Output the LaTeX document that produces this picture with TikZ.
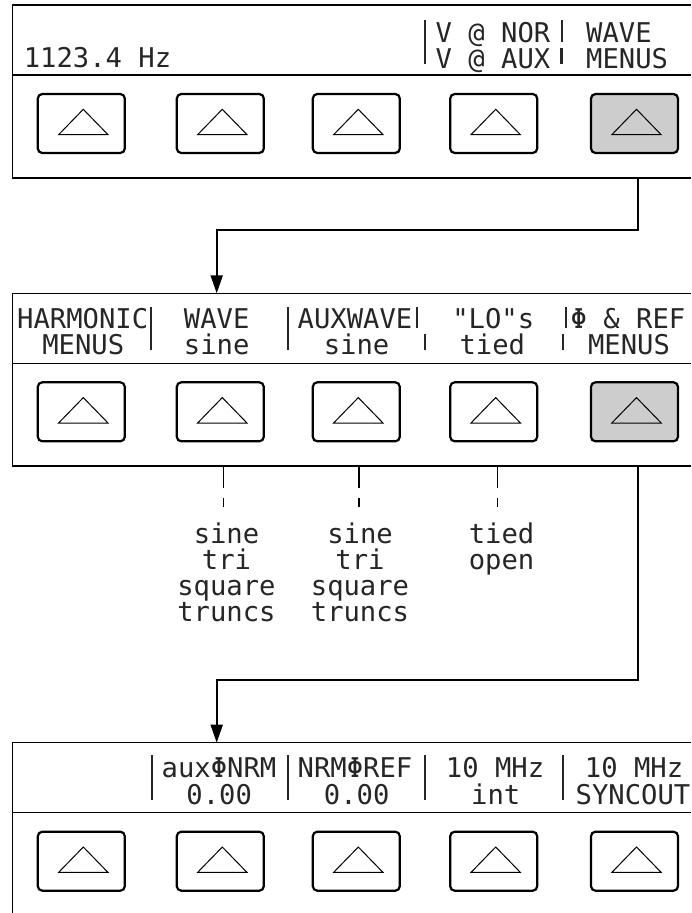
\documentclass[tikz,border=0pt]{standalone}
\usepackage{fontspec}
\newfontfamily\lcdfont{DejaVu Sans Mono}
\usetikzlibrary{arrows.meta}
\definecolor{btngray}{RGB}{205,205,205}
\begin{document}
\begin{tikzpicture}[x=1pt,y=-1pt,
  panel/.style={line width=1.2pt},
  btn/.style={draw, line width=2.2pt, rounded corners=4.5pt, minimum width=87pt, minimum height=59pt, inner sep=0pt},
  btnsel/.style={btn, fill=btngray},
  tri/.style={line width=1pt},
  lcd/.style={font=\lcdfont\fontsize{27.2pt}{30pt}\selectfont, inner sep=0pt, anchor=base, text=black!85},
  bar/.style={line width=2.2pt, draw=black!85},
  conn/.style={line width=2pt, -{Triangle[length=18pt,width=12pt]}},
  ind/.style={line width=1.2pt, dash pattern=on 22pt off 10pt on 9pt off 60pt}
]
\useasboundingbox (0,0) rectangle (691,913);

% ---------- top panel ----------
\draw[panel] (691,5) -- (12.7,5) -- (12.7,178) -- (691,178);
\draw[panel] (12.7,75) -- (691,75);
\foreach \n/\x in {1/81.3,2/220.3,3/356.3,4/493.7}{\node[btn] (ta\n) at (\x,123.5) {};}
\node[btnsel] (ta5) at (634.5,123.5) {};
\foreach \n in {1,...,5}{\draw[tri] ([shift={(2,-14.2)}]ta\n.center) -- ([shift={(26.7,11.2)}]ta\n.center) -- ([shift={(-22.7,11.2)}]ta\n.center) -- cycle;}
\node[lcd] (tfreq) at (97.5,67) {1123.4 Hz};
\node[lcd] (tnor) at (493,42) {V @ NOR};
\node[lcd] (taux) at (493,68) {V @ AUX};
\node[lcd,anchor=base west] (twave) at (586,42) {WAVE};
\node[lcd,anchor=base west] (tmenus) at (586,68) {MENUS};
\draw[bar] (425,20) -- (425,64);
\draw[bar] (562,20) -- (562,42);
\draw[bar] (561.5,48) -- (561.5,64);

% ---------- connector 1 ----------
\coordinate (c1s) at (638.3,178);
\coordinate (c1m) at (216.7,230);
\coordinate (c1e) at (216.7,293.3);
\draw[conn] (c1s) |- (c1m) -- (c1e);

% ---------- middle panel ----------
\draw[panel] (691,293.3) -- (12.7,293.3) -- (12.7,466) -- (691,466);
\draw[panel] (12.7,363.3) -- (691,363.3);
\foreach \n/\x in {1/81.3,2/220.3,3/356.3,4/493.7}{\node[btn] (mb\n) at (\x,411.8) {};}
\node[btnsel] (mb5) at (634.5,411.8) {};
\foreach \n in {1,...,5}{\draw[tri] ([shift={(2,-14.2)}]mb\n.center) -- ([shift={(26.7,11.2)}]mb\n.center) -- ([shift={(-22.7,11.2)}]mb\n.center) -- cycle;}
\node[lcd] (mharm) at (82.7,328) {HARMONIC};
\node[lcd] (mhmen) at (83.3,354) {MENUS};
\node[lcd] (mwave) at (216.7,328) {WAVE};
\node[lcd] (mwsin) at (216.7,354) {sine};
\node[lcd] (maux) at (355,328) {AUXWAVE};
\node[lcd] (masin) at (356.5,354) {sine};
\node[lcd] (mlo) at (493.3,328) {"LO"s};
\node[lcd] (mtied) at (492.3,354) {tied};
\node[lcd] (mphi) at (628,328) {Φ \& REF};
\node[lcd] (mpmen) at (629,354) {MENUS};
\draw[bar] (151,307) -- (151,350);
\draw[bar] (288,307) -- (288,350);
\draw[bar] (417,307) -- (417,328);
\draw[bar] (425,334) -- (425,350);
\draw[bar] (566,307) -- (566,328);
\draw[bar] (563,334) -- (563,350);

% ---------- option lists ----------
\node[lcd] (l1a) at (226.5,543) {sine};
\node[lcd] (l1b) at (226.5,569) {tri};
\node[lcd] (l1c) at (226.5,595) {square};
\node[lcd] (l1d) at (226.5,621) {truncs};
\node[lcd] (l2a) at (360,543) {sine};
\node[lcd] (l2b) at (360,569) {tri};
\node[lcd] (l2c) at (360,595) {square};
\node[lcd] (l2d) at (360,621) {truncs};
\node[lcd] (l3a) at (501.5,543) {tied};
\node[lcd] (l3b) at (501.5,569) {open};
\coordinate (d1s) at (223.3,466);
\coordinate (d1e) at (223.3,507.3);
\coordinate (d2s) at (359,466);
\coordinate (d2e) at (359,507.3);
\coordinate (d3s) at (497.7,466);
\coordinate (d3e) at (497.7,507.3);
\draw[ind] (d1s) -- (d1e);
\draw[ind] (d2s) -- (d2e);
\draw[ind] (d3s) -- (d3e);

% ---------- connector 2 ----------
\coordinate (c2s) at (638.3,466);
\coordinate (c2m) at (216.7,679.5);
\coordinate (c2e) at (216.7,742.7);
\draw[conn] (c2s) |- (c2m) -- (c2e);

% ---------- bottom panel ----------
\draw[panel] (691,742.7) -- (12.7,742.7) -- (12.7,913);
\draw[panel] (12.7,812.7) -- (691,812.7);
\foreach \n/\x in {1/81.3,2/220.3,3/356.3,4/493.7,5/634.5}{\node[btn] (bb\n) at (\x,861.2) {};}
\foreach \n in {1,...,5}{\draw[tri] ([shift={(2,-14.2)}]bb\n.center) -- ([shift={(26.7,11.2)}]bb\n.center) -- ([shift={(-22.7,11.2)}]bb\n.center) -- cycle;}
\node[lcd] (baux) at (219,777) {auxΦNRM};
\node[lcd] (bauxv) at (219.2,804) {0.00};
\node[lcd] (bnrm) at (355,777) {NRMΦREF};
\node[lcd] (bnrmv) at (356.7,804) {0.00};
\node[lcd] (bmhz) at (495,777) {10 MHz};
\node[lcd] (bint) at (495.8,804) {int};
\node[lcd] (bmhz2) at (634,777) {10 MHz};
\node[lcd] (bsync) at (633,804) {SYNCOUT};
\draw[bar] (151.7,755) -- (151.7,800);
\draw[bar] (288.3,755) -- (288.3,800);
\draw[bar] (425,755) -- (425,800);
\draw[bar] (563.3,755) -- (563.3,800);
\end{tikzpicture}
\end{document}
